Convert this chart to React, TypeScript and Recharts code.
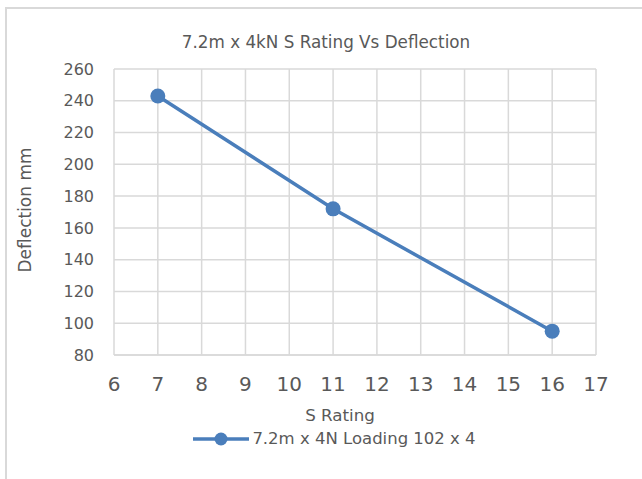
import { CartesianGrid, Label, Legend, Line, LineChart, XAxis, YAxis } from "recharts";

const sRatings = [7, 11, 16];
const deflections = [243, 172, 95];
const xTicks = [6, 7, 8, 9, 10, 11, 12, 13, 14, 15, 16, 17];
const yTicks = [80, 100, 120, 140, 160, 180, 200, 220, 240, 260];
const seriesName = "7.2m x 4N Loading 102 x 4";

const data = sRatings.map((s, i) => ({ s, deflection: deflections[i] }));

const font = "'DejaVu Sans', sans-serif";
const textColor = "#595959";
const blue = "#4a7ebb";
const grid = "#d9d9d9";

function LegendContent() {
  return (
    <div style={{ display: "flex", alignItems: "center", justifyContent: "center", paddingLeft: 27, fontFamily: font, fontSize: 16.5, color: textColor }}>
      <svg width={56} height={16} style={{ marginRight: 3 }}>
        <line x1={0} y1={8} x2={56} y2={8} stroke={blue} strokeWidth={3.5} />
        <circle cx={28} cy={8} r={6.5} fill={blue} />
      </svg>
      <span>{seriesName}</span>
    </div>
  );
}

export default function App() {
  return (
    <div style={{ position: "absolute", left: 0, top: 0, width: 642, height: 479, background: "#fff", overflow: "hidden" }}>
      <div style={{ position: "absolute", left: 5, top: 7, width: 700, height: 500, borderLeft: `2px solid ${grid}`, borderTop: `2px solid ${grid}` }} />
      <div style={{ position: "absolute", left: 0, width: 652, top: 32, textAlign: "center", fontFamily: font, fontSize: 16.8, color: textColor }}>
        7.2m x 4kN S Rating Vs Deflection
      </div>
      <LineChart width={642} height={479} data={data} margin={{ top: 69, right: 46, left: 0, bottom: 20 }} style={{ position: "absolute", left: 0, top: 0 }}>
        <CartesianGrid stroke={grid} strokeWidth={1.5} />
        <XAxis
          dataKey="s"
          type="number"
          domain={[6, 17]}
          ticks={xTicks}
          height={74}
          tick={{ fill: textColor, fontSize: 20, fontFamily: font }}
          tickLine={false}
          tickMargin={16}
          axisLine={{ stroke: grid, strokeWidth: 1.5 }}
        >
          <Label
            content={({ viewBox }: any) => (
              <text x={viewBox.x + viewBox.width / 2 - 15} y={viewBox.y + viewBox.height - 8} textAnchor="middle" fill={textColor} fontSize={16.7} fontFamily={font}>
                S Rating
              </text>
            )}
          />
        </XAxis>
        <YAxis
          type="number"
          domain={[80, 260]}
          ticks={yTicks}
          width={114}
          tick={{ fill: textColor, fontSize: 16, fontFamily: font }}
          tickLine={false}
          tickMargin={14}
          axisLine={false}
        >
          <Label
            content={({ viewBox }: any) => {
              const cx = 25;
              const cy = viewBox.y + viewBox.height / 2 - 2;
              return (
                <text x={cx} y={cy} transform={`rotate(-90 ${cx} ${cy})`} textAnchor="middle" dominantBaseline="central" fill={textColor} fontSize={17} fontFamily={font}>
                  Deflection mm
                </text>
              );
            }}
          />
        </YAxis>
        <Legend verticalAlign="bottom" height={30} wrapperStyle={{ left: 0, width: 642 }} content={() => <LegendContent />} />
        <Line
          type="linear"
          dataKey="deflection"
          name={seriesName}
          stroke={blue}
          strokeWidth={3.5}
          dot={{ r: 7.5, fill: blue, stroke: blue, strokeWidth: 0 }}
          isAnimationActive={false}
        />
      </LineChart>
    </div>
  );
}
